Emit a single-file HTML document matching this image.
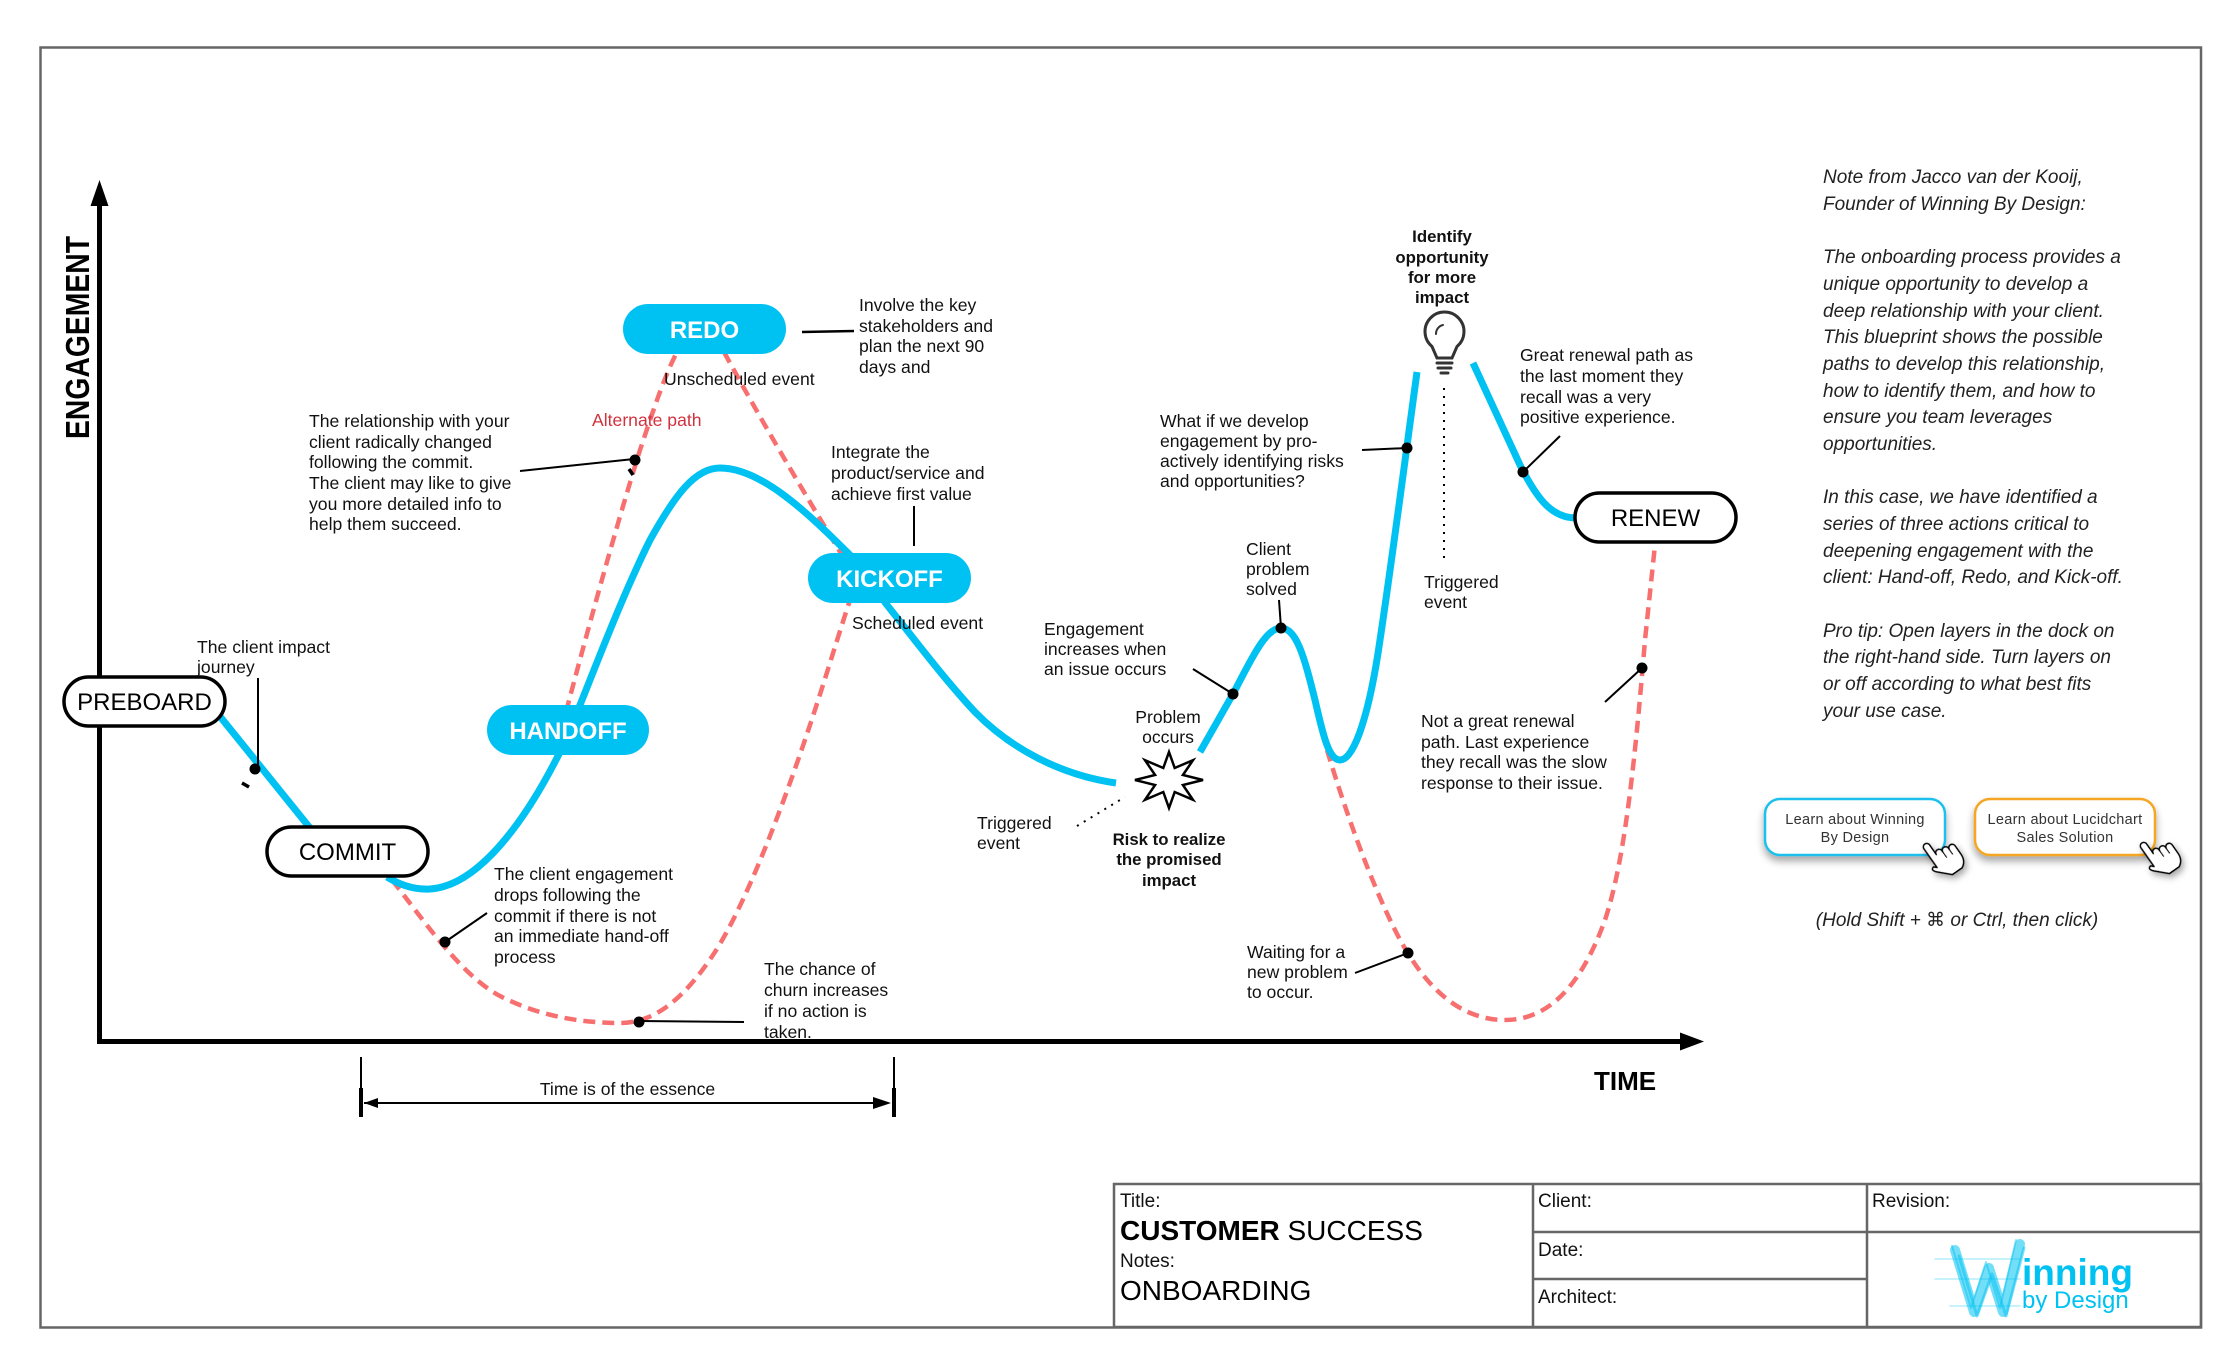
<!DOCTYPE html>
<html>
<head>
<meta charset="utf-8">
<style>
html,body{margin:0;padding:0;background:#fff;}
svg{display:block;}
text{font-family:"Liberation Sans",Arial,sans-serif;}
.a{font-size:17.6px;fill:#111;}
.b{font-size:16.8px;fill:#111;font-weight:bold;}
.n{font-size:19px;fill:#222;font-style:italic;}
.t{font-size:19px;fill:#111;}
.pill{font-size:24px;}
</style>
</head>
<body>
<svg width="2240" height="1360" viewBox="0 0 2240 1360" xmlns="http://www.w3.org/2000/svg">
<defs>
<filter id="sh" x="-20%" y="-20%" width="140%" height="160%">
<feDropShadow dx="0" dy="5" stdDeviation="4" flood-color="#000" flood-opacity="0.35"/>
</filter>
</defs>
<rect x="0" y="0" width="2240" height="1360" fill="#fff"/>
<!-- main border -->
<rect x="40.5" y="47.5" width="2160.5" height="1280" fill="none" stroke="#666" stroke-width="2.5"/>

<!-- axes -->
<line x1="99.5" y1="200" x2="99.5" y2="1044" stroke="#000" stroke-width="5"/>
<polygon points="99.5,180 90.5,206 108.5,206" fill="#000"/>
<line x1="97" y1="1041.5" x2="1684" y2="1041.5" stroke="#000" stroke-width="5"/>
<polygon points="1704,1041.5 1680,1032.5 1680,1050.5" fill="#000"/>
<text transform="translate(89,337.5) rotate(-90)" text-anchor="middle" font-weight="bold" font-size="33" textLength="203" lengthAdjust="spacingAndGlyphs" fill="#000">ENGAGEMENT</text>
<text x="1594" y="1090" font-weight="bold" font-size="26" fill="#000">TIME</text>

<!-- time is of the essence -->
<line x1="361" y1="1057" x2="361" y2="1117" stroke="#000" stroke-width="2"/>
<line x1="361" y1="1088" x2="361" y2="1117" stroke="#000" stroke-width="4"/>
<line x1="894" y1="1057" x2="894" y2="1117" stroke="#000" stroke-width="2"/>
<line x1="894" y1="1088" x2="894" y2="1117" stroke="#000" stroke-width="4"/>
<line x1="364" y1="1103" x2="888" y2="1103" stroke="#000" stroke-width="2"/>
<polygon points="891,1103 873,1097 873,1109" fill="#000"/>
<polygon points="364,1103 378,1098 378,1108" fill="#000"/>
<text class="a" x="627.5" y="1095" text-anchor="middle">Time is of the essence</text>

<!-- red dashed paths -->
<g fill="none" stroke="#F76F6F" stroke-width="4.5" stroke-dasharray="12 7">
<path d="M392,880 C420,915 460,975 500,996 C535,1014 575,1023 620,1023 C660,1023 690,990 715,952 C745,905 780,815 810,725 C825,680 840,630 850,600"/>
<path d="M566,712 C585,640 615,530 640,450 C655,405 665,375 678,350"/>
<path d="M724,352 C750,400 790,470 845,560"/>
<path d="M1327,750 C1345,810 1370,880 1395,930 C1420,980 1455,1020 1505,1020 C1555,1020 1585,975 1605,920 C1625,860 1635,760 1645,640 L1655,545"/>
</g>

<!-- blue paths -->
<g fill="none" stroke="#00C2F2" stroke-width="7" stroke-linecap="butt">
<path d="M218,714 L310,828"/>
<path d="M387,877 C400,885 414,890 430,889 C478,886 525,822 560,752 L580,705 C600,655 625,590 650,540 C675,495 695,468 720,468 C760,468 805,510 850,555 L887,605 C915,640 945,680 975,712 C1010,748 1060,775 1116,783"/>
<path d="M1200,752 L1233,694 C1250,662 1265,628 1281,628 C1297,628 1305,660 1315,700 C1322,730 1328,760 1340,760 C1355,760 1370,710 1380,640 C1392,560 1405,460 1417,372"/>
<path d="M1473,363 L1520,465 C1535,495 1550,518 1576,518"/>
</g>

<!-- pills -->
<rect x="64" y="677" width="161" height="49" rx="24.5" fill="#fff" stroke="#000" stroke-width="3.5"/>
<text class="pill" x="144.5" y="710" text-anchor="middle" fill="#000">PREBOARD</text>
<rect x="267" y="827" width="161" height="49" rx="24.5" fill="#fff" stroke="#000" stroke-width="3.5"/>
<text class="pill" x="347.5" y="860" text-anchor="middle" fill="#000">COMMIT</text>
<rect x="1575" y="493" width="161" height="49" rx="24.5" fill="#fff" stroke="#000" stroke-width="3.5"/>
<text class="pill" x="1655.5" y="526" text-anchor="middle" fill="#000">RENEW</text>

<rect x="487" y="705" width="162" height="50" rx="25" fill="#00C2F2"/>
<text class="pill" x="568" y="739" text-anchor="middle" fill="#fff" font-weight="bold">HANDOFF</text>
<rect x="623" y="304" width="163" height="50" rx="25" fill="#00C2F2"/>
<text class="pill" x="704.5" y="338" text-anchor="middle" fill="#fff" font-weight="bold">REDO</text>
<rect x="808" y="553" width="163" height="50" rx="25" fill="#00C2F2"/>
<text class="pill" x="889.5" y="587" text-anchor="middle" fill="#fff" font-weight="bold">KICKOFF</text>

<!-- connectors & dots -->
<g stroke="#000" stroke-width="2" fill="none">
<line x1="258" y1="678" x2="258" y2="769"/>
<line x1="520" y1="471" x2="634" y2="459"/>
<line x1="802" y1="332" x2="854" y2="331" stroke-width="2.5"/>
<line x1="914" y1="506" x2="914" y2="546"/>
<line x1="487" y1="913" x2="445" y2="942"/>
<line x1="639" y1="1021" x2="744" y2="1022"/>
<line x1="1193" y1="669" x2="1233" y2="694"/>
<line x1="1279" y1="600" x2="1281" y2="628"/>
<line x1="1362" y1="450" x2="1407" y2="448"/>
<line x1="1560" y1="436" x2="1523" y2="472"/>
<line x1="1605" y1="702" x2="1642" y2="668"/>
<line x1="1355" y1="973" x2="1408" y2="953"/>
</g>
<line x1="242" y1="783" x2="249" y2="787" stroke="#000" stroke-width="3.5"/>
<line x1="629" y1="469" x2="633" y2="475" stroke="#000" stroke-width="3.5"/>
<g fill="#000">
<circle cx="255" cy="769" r="5.5"/>
<circle cx="635" cy="460" r="5.5"/>
<circle cx="445" cy="942" r="5.5"/>
<circle cx="639" cy="1022" r="5.5"/>
<circle cx="1233" cy="694" r="5.5"/>
<circle cx="1281" cy="628" r="5.5"/>
<circle cx="1407" cy="448" r="5.5"/>
<circle cx="1523" cy="472" r="5.5"/>
<circle cx="1642" cy="668" r="5.5"/>
<circle cx="1408" cy="953" r="5.5"/>
</g>

<!-- dotted lines -->
<line x1="1444" y1="388" x2="1444" y2="560" stroke="#000" stroke-width="2" stroke-dasharray="2 6"/>
<line x1="1077" y1="826" x2="1125" y2="797" stroke="#000" stroke-width="2" stroke-dasharray="2 6"/>

<!-- starburst -->
<polygon points="1169,752 1174.7,768 1193,760.2 1182.9,775 1203,780 1182.9,785 1193,799.8 1174.7,792 1169,808 1163.3,792 1145,799.8 1155.1,785 1135,780 1155.1,775 1145,760.2 1163.3,768" fill="#fff" stroke="#000" stroke-width="2.5" stroke-linejoin="miter"/>

<!-- lightbulb -->
<g fill="none" stroke="#333" stroke-width="3" stroke-linecap="round">
<path d="M1437,358 L1432,346.5 A19.5,19.5 0 1 1 1457,346.5 L1452,358 Z"/>
<line x1="1437" y1="363" x2="1452" y2="363"/>
<line x1="1438" y1="368" x2="1451" y2="368"/>
<line x1="1441" y1="373" x2="1448" y2="373"/>
<path d="M1436,334 A9,9 0 0 1 1443,325" stroke-width="2"/>
</g>

<!-- annotations -->
<text class="a" x="197"><tspan x="197" y="653">The client impact</tspan><tspan x="197" y="673">journey</tspan></text>
<text class="a"><tspan x="309" y="427">The relationship with your</tspan><tspan x="309" y="448">client radically changed</tspan><tspan x="309" y="468">following the commit.</tspan><tspan x="309" y="489">The client may like to give</tspan><tspan x="309" y="510">you more detailed info to</tspan><tspan x="309" y="530">help them succeed.</tspan></text>
<text class="a" x="592" y="426" style="fill:#D0333E">Alternate path</text>
<text class="a" x="664" y="385">Unscheduled event</text>
<text class="a"><tspan x="859" y="311">Involve the key</tspan><tspan x="859" y="332">stakeholders and</tspan><tspan x="859" y="352">plan the next 90</tspan><tspan x="859" y="373">days and</tspan></text>
<text class="a"><tspan x="831" y="458">Integrate the</tspan><tspan x="831" y="479">product/service and</tspan><tspan x="831" y="500">achieve first value</tspan></text>
<text class="a" x="852" y="629">Scheduled event</text>
<text class="a"><tspan x="1044" y="635">Engagement</tspan><tspan x="1044" y="655">increases when</tspan><tspan x="1044" y="675">an issue occurs</tspan></text>
<text class="a"><tspan x="1246" y="555">Client</tspan><tspan x="1246" y="575">problem</tspan><tspan x="1246" y="595">solved</tspan></text>
<text class="a" text-anchor="middle"><tspan x="1168" y="723">Problem</tspan><tspan x="1168" y="743">occurs</tspan></text>
<text class="b" text-anchor="middle"><tspan x="1169" y="845">Risk to realize</tspan><tspan x="1169" y="865">the promised</tspan><tspan x="1169" y="886">impact</tspan></text>
<text class="a"><tspan x="977" y="829">Triggered</tspan><tspan x="977" y="849">event</tspan></text>
<text class="a"><tspan x="1160" y="427">What if we develop</tspan><tspan x="1160" y="447">engagement by pro-</tspan><tspan x="1160" y="467">actively identifying risks</tspan><tspan x="1160" y="487">and opportunities?</tspan></text>
<text class="b" text-anchor="middle"><tspan x="1442" y="242">Identify</tspan><tspan x="1442" y="263">opportunity</tspan><tspan x="1442" y="283">for more</tspan><tspan x="1442" y="303">impact</tspan></text>
<text class="a"><tspan x="1520" y="361">Great renewal path as</tspan><tspan x="1520" y="382">the last moment they</tspan><tspan x="1520" y="403">recall was a very</tspan><tspan x="1520" y="423">positive experience.</tspan></text>
<text class="a"><tspan x="1424" y="588">Triggered</tspan><tspan x="1424" y="608">event</tspan></text>
<text class="a"><tspan x="1421" y="727">Not a great renewal</tspan><tspan x="1421" y="748">path. Last experience</tspan><tspan x="1421" y="768">they recall was the slow</tspan><tspan x="1421" y="789">response to their issue.</tspan></text>
<text class="a"><tspan x="1247" y="958">Waiting for a</tspan><tspan x="1247" y="978">new problem</tspan><tspan x="1247" y="998">to occur.</tspan></text>
<text class="a"><tspan x="494" y="880">The client engagement</tspan><tspan x="494" y="901">drops following the</tspan><tspan x="494" y="922">commit if there is not</tspan><tspan x="494" y="942">an immediate hand-off</tspan><tspan x="494" y="963">process</tspan></text>
<text class="a"><tspan x="764" y="975">The chance of</tspan><tspan x="764" y="996">churn increases</tspan><tspan x="764" y="1017">if no action is</tspan><tspan x="764" y="1038">taken.</tspan></text>

<!-- right notes -->
<text class="n">
<tspan x="1823" y="183">Note from Jacco van der Kooij,</tspan>
<tspan x="1823" y="210">Founder of Winning By Design:</tspan>
<tspan x="1823" y="263">The onboarding process provides a</tspan>
<tspan x="1823" y="290">unique opportunity to develop a</tspan>
<tspan x="1823" y="317">deep relationship with your client.</tspan>
<tspan x="1823" y="343">This blueprint shows the possible</tspan>
<tspan x="1823" y="370">paths to develop this relationship,</tspan>
<tspan x="1823" y="397">how to identify them, and how to</tspan>
<tspan x="1823" y="423">ensure you team leverages</tspan>
<tspan x="1823" y="450">opportunities.</tspan>
<tspan x="1823" y="503">In this case, we have identified a</tspan>
<tspan x="1823" y="530">series of three actions critical to</tspan>
<tspan x="1823" y="557">deepening engagement with the</tspan>
<tspan x="1823" y="583">client: Hand-off, Redo, and Kick-off.</tspan>
<tspan x="1823" y="637">Pro tip: Open layers in the dock on</tspan>
<tspan x="1823" y="663">the right-hand side. Turn layers on</tspan>
<tspan x="1823" y="690">or off according to what best fits</tspan>
<tspan x="1823" y="717">your use case.</tspan>
</text>

<!-- buttons -->
<rect x="1765" y="799" width="180" height="56" rx="15" fill="#fff" stroke="#1EC0EC" stroke-width="2.5" filter="url(#sh)"/>
<text font-size="14.5" fill="#333" text-anchor="middle" letter-spacing="0.3"><tspan x="1855" y="824">Learn about Winning</tspan><tspan x="1855" y="842">By Design</tspan></text>
<rect x="1975" y="799" width="180" height="56" rx="15" fill="#fff" stroke="#F5A623" stroke-width="2.5" filter="url(#sh)"/>
<text font-size="14.5" fill="#333" text-anchor="middle" letter-spacing="0.3"><tspan x="2065" y="824">Learn about Lucidchart</tspan><tspan x="2065" y="842">Sales Solution</tspan></text>

<g transform="translate(1922,846) rotate(-35) scale(0.85)" filter="url(#sh)">
<path d="M0,4 A4,4 0 0 1 8,4 L8,18 A4,4 0 0 1 16,18 L16,20 A4,4 0 0 1 24,20 L24,22 A4,4 0 0 1 32,22 L32,34 Q32,44 24,48 L10,48 Q6,44 -4,34 Q-8,29 -3,28 L0,31 Z" fill="#fff" stroke="#000" stroke-width="1.8" stroke-linejoin="round"/>
<path d="M16,20 L16,28 M24,22 L24,29" stroke="#000" stroke-width="1.4" fill="none"/>
</g>
<g transform="translate(2139,845) rotate(-35) scale(0.85)" filter="url(#sh)">
<path d="M0,4 A4,4 0 0 1 8,4 L8,18 A4,4 0 0 1 16,18 L16,20 A4,4 0 0 1 24,20 L24,22 A4,4 0 0 1 32,22 L32,34 Q32,44 24,48 L10,48 Q6,44 -4,34 Q-8,29 -3,28 L0,31 Z" fill="#fff" stroke="#000" stroke-width="1.8" stroke-linejoin="round"/>
<path d="M16,20 L16,28 M24,22 L24,29" stroke="#000" stroke-width="1.4" fill="none"/>
</g>
<text class="n" x="1957" y="926" text-anchor="middle">(Hold Shift + <tspan font-family="DejaVu Sans" font-style="normal">⌘</tspan> or Ctrl, then click)</text>

<!-- title block -->
<g fill="none" stroke="#666" stroke-width="2.5">
<rect x="1114" y="1184" width="1087" height="143"/>
<line x1="1533" y1="1184" x2="1533" y2="1327"/>
<line x1="1867" y1="1184" x2="1867" y2="1327"/>
<line x1="1533" y1="1232" x2="2201" y2="1232"/>
<line x1="1533" y1="1279" x2="1867" y2="1279"/>
</g>
<text class="t" x="1120" y="1207">Title:</text>
<text x="1120" y="1240" font-size="28" fill="#000"><tspan font-weight="bold">CUSTOMER</tspan> SUCCESS</text>
<text class="t" x="1120" y="1267">Notes:</text>
<text x="1120" y="1300" font-size="28" fill="#000">ONBOARDING</text>
<text class="t" x="1538" y="1207">Client:</text>
<text class="t" x="1538" y="1256">Date:</text>
<text class="t" x="1538" y="1303">Architect:</text>
<text class="t" x="1872" y="1207">Revision:</text>

<!-- logo -->
<g stroke="#00C2F2" fill="none" stroke-linecap="round" stroke-linejoin="round">
<line x1="1935" y1="1259" x2="2020" y2="1259" stroke-width="1.5" opacity="0.3"/>
<line x1="1935" y1="1279" x2="2020" y2="1279" stroke-width="1.5" opacity="0.3"/>
<line x1="1950" y1="1306" x2="2020" y2="1306" stroke-width="1.5" opacity="0.3"/>
<polyline points="1955,1250 1974,1312 1989,1268 2003,1312 2020,1244" stroke-width="10" opacity="0.55"/>
<polyline points="1959,1256 1977,1316 1992,1274 2006,1316 2024,1248" stroke-width="3" opacity="0.5"/>
<polyline points="1952,1246 1971,1308 1986,1262 2000,1308 2016,1240" stroke-width="2" opacity="0.45"/>
</g>
<text x="2022" y="1285" font-size="37" font-weight="bold" fill="#00C2F2">inning</text>
<text x="2022" y="1308" font-size="24" fill="#00C2F2">by Design</text>
</svg>
</body>
</html>
